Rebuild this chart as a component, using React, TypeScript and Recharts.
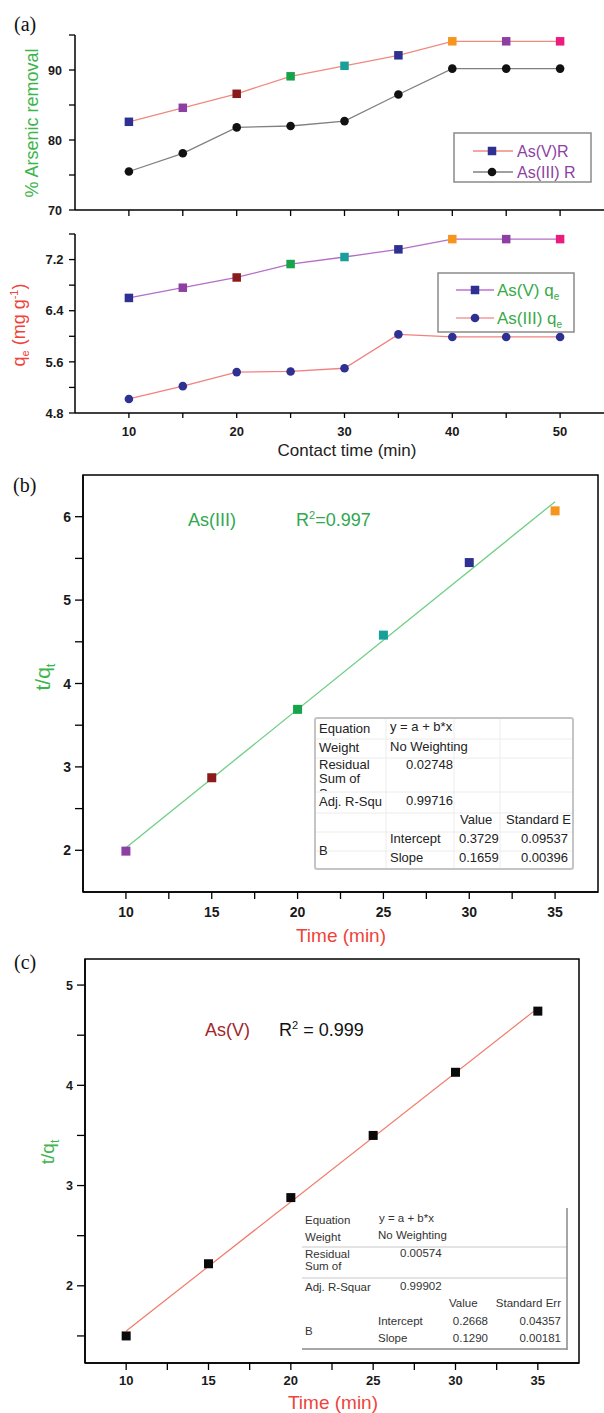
import React from 'react'
import { LineChart, Line, XAxis, YAxis, ComposedChart, Scatter, ReferenceArea } from 'recharts'

const SANS = "'Liberation Sans', Arial, sans-serif"
const SERIF = "'Liberation Serif', 'Times New Roman', serif"

// (a) contact time study
const contactTime = [10, 15, 20, 25, 30, 35, 40, 45, 50]
const asVRemoval = [82.6, 84.6, 86.6, 89.1, 90.6, 92.1, 94.1, 94.1, 94.1]
const asIIIRemoval = [75.5, 78.1, 81.8, 82.0, 82.7, 86.5, 90.2, 90.2, 90.2]
const asVQe = [6.6, 6.76, 6.92, 7.13, 7.24, 7.36, 7.52, 7.52, 7.52]
const asIIIQe = [5.02, 5.22, 5.44, 5.45, 5.5, 6.03, 5.99, 5.99, 5.99]
const asVMarkerColors = ['#2e3192', '#8e3fa3', '#8b1a1a', '#16a34a', '#17a09a', '#2e3192', '#f7941d', '#8e3fa3', '#ec1c7c']
const contactTicks = [10, 15, 20, 25, 30, 35, 40, 45, 50]
const contactLabels = [10, 20, 30, 40, 50]
const removalTicks = [70, 75, 80, 85, 90, 95]
const removalLabels = [70, 80, 90]
const qeTicks = [4.8, 5.2, 5.6, 6.0, 6.4, 6.8, 7.2, 7.6]
const qeLabels = [4.8, 5.6, 6.4, 7.2]

// (b) As(III) t/qt vs time
const kineticTime = [10, 15, 20, 25, 30, 35]
const asIIITq = [1.99, 2.87, 3.69, 4.58, 5.45, 6.07]
const asIIIPointColors = ['#8e3fa3', '#8b1a1a', '#16a34a', '#17a09a', '#2e3192', '#f7941d']
const asIIIFitX = [10, 35]
const asIIIFitY = [2.03, 6.18]

// (c) As(V) t/qt vs time
const asVTq = [1.5, 2.22, 2.88, 3.5, 4.13, 4.74]
const asVFitX = [10, 35]
const asVFitY = [1.55, 4.77]

const kinXTicks = [10, 12.5, 15, 17.5, 20, 22.5, 25, 27.5, 30, 32.5, 35]
const kinXLabels = [10, 15, 20, 25, 30, 35]
const bYTicks = [2, 2.5, 3, 3.5, 4, 4.5, 5, 5.5, 6]
const bYLabels = [2, 3, 4, 5, 6]
const cYTicks = [1.5, 2, 2.5, 3, 3.5, 4, 4.5, 5]
const cYLabels = [2, 3, 4, 5]

const removalRows = contactTime.map((t, i) => ({ t, asV: asVRemoval[i], asIII: asIIIRemoval[i] }))
const qeRows = contactTime.map((t, i) => ({ t, asV: asVQe[i], asIII: asIIIQe[i] }))
const bPoints = kineticTime.map((x, i) => ({ x, y: asIIITq[i], c: asIIIPointColors[i] }))
const bFit = asIIIFitX.map((x, i) => ({ x, y: asIIIFitY[i] }))
const cPoints = kineticTime.map((x, i) => ({ x, y: asVTq[i], c: '#0a0a0a' }))
const cFit = asVFitX.map((x, i) => ({ x, y: asVFitY[i] }))

const axisStroke = { stroke: '#000', strokeWidth: 1.5 }

function AxisTick(p: any) {
  const { x, y, payload, orient, len, lab, fs, gap } = p
  const v = payload?.value
  const show = lab.includes(v)
  const txt = { fontSize: fs, fontWeight: 700, fontFamily: SANS, fill: '#1a1a1a' }
  if (orient === 'x') {
    return (
      <g>
        <line x1={x} x2={x} y1={y} y2={y + len} stroke="#000" strokeWidth={1.3} />
        {show && <text x={x} y={y + gap} textAnchor="middle" style={txt}>{v}</text>}
      </g>
    )
  }
  return (
    <g>
      <line x1={x - len} x2={x} y1={y} y2={y} stroke="#000" strokeWidth={1.3} />
      {show && <text x={x - gap} y={y} dy="0.36em" textAnchor="end" style={txt}>{v}</text>}
    </g>
  )
}

const squareDot = (colors: string[], s: number) => (p: any) => {
  const { cx, cy, index } = p
  if (cx == null || cy == null) return <g key={`n-${index}`} />
  return <rect key={`sq-${index}`} x={cx - s / 2} y={cy - s / 2} width={s} height={s} fill={colors[index]} />
}
const circleDot = (fill: string, r: number) => (p: any) => {
  const { cx, cy, index } = p
  if (cx == null || cy == null) return <g key={`n-${index}`} />
  return <circle key={`c-${index}`} cx={cx} cy={cy} r={r} fill={fill} />
}
const squareShape = (p: any) => {
  const fill = p.payload?.c ?? p.c ?? '#000'
  return <rect x={p.cx - 4.5} y={p.cy - 4.5} width={9} height={9} fill={fill} />
}

const rotTitle = (x: number, y: number, fill: string, fs: number, body: React.ReactNode) => () => (
  <text x={x} y={y} transform={`rotate(-90 ${x} ${y})`} textAnchor="middle" fill={fill}
    style={{ fontSize: fs, fontFamily: SANS }}>{body}</text>
)
const flatTitle = (x: number, y: number, fill: string, fs: number, body: React.ReactNode) => () => (
  <text x={x} y={y} textAnchor="middle" fill={fill} style={{ fontSize: fs, fontFamily: SANS }}>{body}</text>
)

function FitTableB() {
  const t = { fontSize: 13, fontFamily: SANS, fill: '#222' }
  return (
    <g>
      <rect x={315} y={718} width={258} height={151} rx={2} fill="#fff" stroke="#c4c4c4" strokeWidth={2} />
      {[386, 454, 500].map(x => <line key={x} x1={x} x2={x} y1={719} y2={868} stroke="#ececec" />)}
      {[739, 758, 792, 813, 832, 851].map(y => <line key={y} x1={316} x2={572} y1={y} y2={y} stroke="#ececec" />)}
      <defs>
        <clipPath id="clipB"><rect x={316} y={758} width={70} height={33} /></clipPath>
      </defs>
      <text x={319} y={733} style={t}>Equation</text>
      <text x={390} y={731} style={t}>y = a + b*x</text>
      <text x={319} y={752} style={t}>Weight</text>
      <text x={390} y={751} style={t}>No Weighting</text>
      <g clipPath="url(#clipB)">
        <text x={319} y={769} style={t}>Residual</text>
        <text x={319} y={783} style={t}>Sum of</text>
        <text x={319} y={798} style={t}>Squares</text>
      </g>
      <text x={406} y={769} style={t}>0.02748</text>
      <text x={319} y={806} style={t}>Adj. R-Squ</text>
      <text x={406} y={805} style={t}>0.99716</text>
      <text x={460} y={824} style={t}>Value</text>
      <text x={506} y={824} style={t}>Standard E</text>
      <text x={319} y={855} style={t}>B</text>
      <text x={390} y={843} style={t}>Intercept</text>
      <text x={459} y={843} style={t}>0.3729</text>
      <text x={568} y={843} textAnchor="end" style={t}>0.09537</text>
      <text x={390} y={862} style={t}>Slope</text>
      <text x={459} y={862} style={t}>0.1659</text>
      <text x={568} y={862} textAnchor="end" style={t}>0.00396</text>
    </g>
  )
}

function FitTableC() {
  const t = { fontSize: 11.5, fontFamily: SANS, fill: '#333' }
  return (
    <g>
      <defs>
        <clipPath id="clipC"><rect x={302} y={1247} width={74} height={30} /></clipPath>
      </defs>
      <line x1={302} x2={567} y1={1247} y2={1247} stroke="#c8c8c8" />
      <line x1={302} x2={567} y1={1278} y2={1278} stroke="#c8c8c8" />
      <line x1={567} x2={567} y1={1208} y2={1350} stroke="#888" strokeWidth={1.5} />
      <line x1={302} x2={567} y1={1349} y2={1349} stroke="#888" strokeWidth={1.5} />
      <text x={305} y={1224} style={t}>Equation</text>
      <text x={379} y={1222} style={t}>y = a + b*x</text>
      <text x={305} y={1241} style={t}>Weight</text>
      <text x={378} y={1239} style={t}>No Weighting</text>
      <g clipPath="url(#clipC)">
        <text x={305} y={1258} style={t}>Residual</text>
        <text x={305} y={1270} style={t}>Sum of</text>
        <text x={305} y={1284.5} style={t}>Squares</text>
      </g>
      <text x={400} y={1257} style={t}>0.00574</text>
      <text x={305} y={1291} style={t}>Adj. R-Squar</text>
      <text x={400} y={1290} style={t}>0.99902</text>
      <text x={449} y={1307} style={t}>Value</text>
      <text x={561} y={1307} textAnchor="end" style={t}>Standard Err</text>
      <text x={305} y={1335} style={t}>B</text>
      <text x={378} y={1325} style={t}>Intercept</text>
      <text x={488} y={1325} textAnchor="end" style={t}>0.2668</text>
      <text x={561} y={1325} textAnchor="end" style={t}>0.04357</text>
      <text x={378} y={1342} style={t}>Slope</text>
      <text x={488} y={1342} textAnchor="end" style={t}>0.1290</text>
      <text x={561} y={1342} textAnchor="end" style={t}>0.00181</text>
    </g>
  )
}

export default function App() {
  const lg = { fontFamily: SANS }
  return (
    <div style={{ position: 'absolute', left: 0, top: 0, width: 604, height: 1413, overflow: 'hidden', background: '#fff' }}>
      {/* (a) top: % removal */}
      <div style={{ position: 'absolute', left: 0, top: 0 }}>
        <LineChart width={614} height={230} data={removalRows} margin={{ top: 35, right: 0, bottom: 0, left: 0 }}>
          <XAxis dataKey="t" type="number" domain={[5, 55]} ticks={contactTicks} allowDataOverflow interval={0}
            height={20} tickSize={0} tickMargin={0} tickLine={false} axisLine={axisStroke}
            tick={<AxisTick orient="x" len={6} lab={[]} fs={12} gap={20} />} />
          <YAxis type="number" domain={[70, 95]} ticks={removalTicks} allowDataOverflow interval={0}
            width={75} tickSize={0} tickMargin={0} tickLine={false} axisLine={axisStroke}
            tick={<AxisTick orient="y" len={6} lab={removalLabels} fs={12.5} gap={13} />}
            label={rotTitle(38, 123, '#3cb54a', 18, '% Arsenic removal')} />
          <Line type="linear" dataKey="asV" stroke="#ef8a80" strokeWidth={1.3}
            dot={squareDot(asVMarkerColors, 8.5)} activeDot={false} isAnimationActive={false} />
          <Line type="linear" dataKey="asIII" stroke="#808080" strokeWidth={1.3}
            dot={circleDot('#111', 4.3)} activeDot={false} isAnimationActive={false} />
        </LineChart>
      </div>

      {/* (a) bottom: qe */}
      <div style={{ position: 'absolute', left: 0, top: 230 }}>
        <LineChart width={614} height={232} data={qeRows} margin={{ top: 4, right: 0, bottom: 0, left: 0 }}>
          <XAxis dataKey="t" type="number" domain={[5, 55]} ticks={contactTicks} allowDataOverflow interval={0}
            height={49} tickSize={0} tickMargin={0} tickLine={false} axisLine={axisStroke}
            tick={<AxisTick orient="x" len={5} lab={contactLabels} fs={13} gap={22.5} />}
            label={flatTitle(347, 226, '#222', 17, 'Contact time (min)')} />
          <YAxis type="number" domain={[4.8, 7.6]} ticks={qeTicks} allowDataOverflow interval={0}
            width={75} tickSize={0} tickMargin={0} tickLine={false} axisLine={axisStroke}
            tick={<AxisTick orient="y" len={6} lab={qeLabels} fs={13} gap={11.5} />}
            label={rotTitle(25, 95, '#f0433a', 18, (
              <>
                <tspan>q</tspan>
                <tspan dy={4} style={{ fontSize: 11 }}>e</tspan>
                <tspan dy={-4}> (mg g</tspan>
                <tspan dy={-7} style={{ fontSize: 11 }}>-1</tspan>
                <tspan dy={7}>)</tspan>
              </>
            ))} />
          <Line type="linear" dataKey="asV" stroke="#b46ec8" strokeWidth={1.3}
            dot={squareDot(asVMarkerColors, 8.5)} activeDot={false} isAnimationActive={false} />
          <Line type="linear" dataKey="asIII" stroke="#f28080" strokeWidth={1.3}
            dot={circleDot('#2e3192', 4.3)} activeDot={false} isAnimationActive={false} />
        </LineChart>
      </div>

      {/* (b) As(III) */}
      <div style={{ position: 'absolute', left: 0, top: 460 }}>
        <ComposedChart width={604} height={490} margin={{ top: 15, right: 6, bottom: 0, left: 0 }}>
          <XAxis dataKey="x" type="number" domain={[7.5, 37.5]} ticks={kinXTicks} allowDataOverflow interval={0}
            height={58} tickSize={0} tickMargin={0} tickLine={false} axisLine={axisStroke}
            tick={<AxisTick orient="x" len={7} lab={kinXLabels} fs={14} gap={24.5} />}
            label={flatTitle(341, 482, '#f0433a', 19, 'Time (min)')} />
          <YAxis dataKey="y" type="number" domain={[1.5, 6.5]} ticks={bYTicks} allowDataOverflow interval={0}
            width={83} tickSize={0} tickMargin={0} tickLine={false} axisLine={axisStroke}
            tick={<AxisTick orient="y" len={8} lab={bYLabels} fs={14} gap={12} />}
            label={rotTitle(50, 217, '#3cb54a', 21, (
              <>
                <tspan>t/q</tspan>
                <tspan dy={5} style={{ fontSize: 13 }}>t</tspan>
              </>
            ))} />
          <ReferenceArea x1={7.5} x2={37.5} y1={1.5} y2={6.5} fill="none" fillOpacity={0} stroke="#000" strokeWidth={1.5} />
          <Line data={bFit} type="linear" dataKey="y" stroke="#6fcf85" strokeWidth={1.3} dot={false} activeDot={false} isAnimationActive={false} />
          <Scatter data={bPoints} dataKey="y" shape={squareShape} isAnimationActive={false} />
        </ComposedChart>
      </div>

      {/* (c) As(V) */}
      <div style={{ position: 'absolute', left: 0, top: 945 }}>
        <ComposedChart width={604} height={468} margin={{ top: 14, right: 25, bottom: 0, left: 0 }}>
          <XAxis dataKey="x" type="number" domain={[7.5, 37.5]} ticks={kinXTicks} allowDataOverflow interval={0}
            height={50} tickSize={0} tickMargin={0} tickLine={false} axisLine={axisStroke}
            tick={<AxisTick orient="x" len={7} lab={kinXLabels} fs={13} gap={22} />}
            label={flatTitle(333, 464, '#f0433a', 19, 'Time (min)')} />
          <YAxis dataKey="y" type="number" domain={[1.23, 5.26]} ticks={cYTicks} allowDataOverflow interval={0}
            width={85} tickSize={0} tickMargin={0} tickLine={false} axisLine={axisStroke}
            tick={<AxisTick orient="y" len={8} lab={cYLabels} fs={12.5} gap={12} />}
            label={rotTitle(54, 207, '#3cb54a', 19, (
              <>
                <tspan>t/q</tspan>
                <tspan dy={5} style={{ fontSize: 12 }}>t</tspan>
              </>
            ))} />
          <ReferenceArea x1={7.5} x2={37.5} y1={1.23} y2={5.26} fill="none" fillOpacity={0} stroke="#000" strokeWidth={1.5} />
          <Line data={cFit} type="linear" dataKey="y" stroke="#f07a6a" strokeWidth={1.2} dot={false} activeDot={false} isAnimationActive={false} />
          <Scatter data={cPoints} dataKey="y" shape={squareShape} isAnimationActive={false} />
        </ComposedChart>
      </div>

      {/* annotations, legends, fit tables */}
      <svg width={604} height={1413} style={{ position: 'absolute', left: 0, top: 0, pointerEvents: 'none' }}>
        <text x={14} y={31} style={{ fontFamily: SERIF, fontSize: 20, fill: '#111' }}>(a)</text>
        <text x={13} y={492} style={{ fontFamily: SERIF, fontSize: 20, fill: '#111' }}>(b)</text>
        <text x={14} y={969} style={{ fontFamily: SERIF, fontSize: 20, fill: '#111' }}>(c)</text>

        {/* legend (a) top */}
        <rect x={454} y={133} width={137} height={49} fill="#fff" stroke="#8a8a8a" strokeWidth={1.5} />
        <line x1={473} x2={513} y1={151} y2={151} stroke="#ef8a80" strokeWidth={1.3} />
        <rect x={487.75} y={146.75} width={8.5} height={8.5} fill="#2e3192" />
        <text x={517} y={157} style={{ ...lg, fontSize: 16, fill: '#8e3fa3' }}>As(V)R</text>
        <line x1={473} x2={513} y1={172} y2={172} stroke="#808080" strokeWidth={1.3} />
        <circle cx={492} cy={172} r={4.3} fill="#111" />
        <text x={517} y={178} style={{ ...lg, fontSize: 16, fill: '#8e3fa3' }}>As(III) R</text>

        {/* legend (a) bottom */}
        <rect x={438} y={273} width={136} height={59} fill="#fff" stroke="#8a8a8a" strokeWidth={1.5} />
        <line x1={456} x2={494} y1={290} y2={290} stroke="#c070d0" strokeWidth={1.3} />
        <rect x={470.75} y={285.75} width={8.5} height={8.5} fill="#2e3192" />
        <text x={497} y={296} style={{ ...lg, fontSize: 17, fill: '#3aaa4a' }}>As(V) q<tspan dy={4} style={{ fontSize: 10 }}>e</tspan></text>
        <line x1={456} x2={494} y1={318} y2={318} stroke="#f49a9a" strokeWidth={1.3} />
        <circle cx={475} cy={318} r={4.3} fill="#2e3192" />
        <text x={497} y={324} style={{ ...lg, fontSize: 17, fill: '#3aaa4a' }}>As(III) q<tspan dy={4} style={{ fontSize: 10 }}>e</tspan></text>

        {/* (b) annotation */}
        <text x={188} y={526} style={{ ...lg, fontSize: 18, fill: '#2fa84f' }}>As(III)</text>
        <text x={296} y={526} style={{ ...lg, fontSize: 18, fill: '#2fa84f' }}>R<tspan dy={-7} style={{ fontSize: 11 }}>2</tspan><tspan dy={7}>=0.997</tspan></text>

        {/* (c) annotation */}
        <text x={205} y={1036} style={{ ...lg, fontSize: 18, fill: '#a1262a' }}>As(V)</text>
        <text x={279} y={1036} style={{ ...lg, fontSize: 18, fill: '#111' }}>R<tspan dy={-7} style={{ fontSize: 11 }}>2</tspan><tspan dy={7}> = 0.999</tspan></text>

        <FitTableB />
        <FitTableC />
      </svg>
    </div>
  )
}
